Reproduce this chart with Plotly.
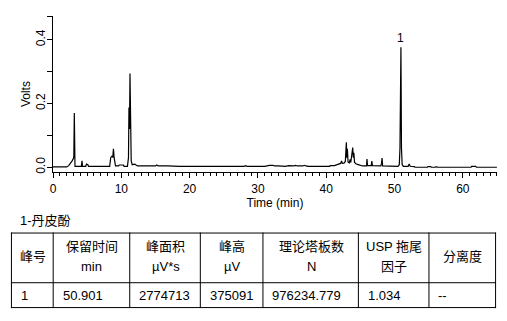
import plotly.graph_objects as go

# Chromatogram (time in min, signal in volts)
time_min = [0, 2.0, 2.3, 2.6, 2.8, 3.0, 3.05, 3.12, 3.18, 3.22, 4.15, 4.25, 4.32, 4.8, 4.9, 5.1, 5.2,
            8.3, 8.45, 8.6, 8.75, 8.85, 8.95, 9.05, 9.15, 9.6, 9.7, 10.3, 10.4, 10.9, 11.05, 11.12, 11.2,
            11.27, 11.35, 11.45, 11.6, 11.9, 12.0, 12.2, 12.4, 15.0, 15.2, 15.4, 16.6, 16.7, 16.8, 18.5,
            19.0, 19.8, 20.9, 21.1, 21.6, 21.7, 24.5, 24.6, 24.8, 26.3, 26.4, 28.0, 28.2, 28.4, 31.0,
            31.2, 31.7, 32.2, 32.4, 33.0, 34.0, 34.5, 35.2, 35.5, 35.8, 36.6, 36.8, 37.0, 37.4, 40.5,
            40.6, 41.2, 41.5, 41.9, 42.1, 42.25, 42.35, 42.6, 42.8, 42.95, 43.02, 43.1, 43.2, 43.4, 43.5,
            43.6, 43.75, 43.88, 43.97, 44.05, 44.15, 44.4, 44.7, 45.0, 45.3, 45.9, 45.97, 46.05, 46.6,
            46.68, 46.76, 48.0, 48.1, 48.18, 48.26, 50.5, 50.7, 50.8, 50.86, 50.94, 51.02, 51.12, 51.3,
            52.0, 52.15, 52.3, 52.9, 53.0, 54.8, 54.9, 55.3, 55.4, 56.0, 56.1, 56.3, 61.2, 61.3, 61.9,
            62.0, 65.0]
volts = [0.001, 0.001, 0.005, 0.012, 0.020, 0.028, 0.035, 0.170, 0.030, 0.003, 0.003, 0.020, 0.003, 0.003, 0.010, 0.008, 0.003,
         0.003, 0.030, 0.034, 0.032, 0.058, 0.030, 0.012, 0.004, 0.004, 0.007, 0.007, 0.003, 0.003, 0.030, 0.187, 0.120,
         0.294, 0.125, 0.020, 0.008, 0.008, 0.010, 0.006, 0.004, 0.004, 0.007, 0.004, 0.004, 0.006, 0.004, 0.003,
         0.003, 0.001, 0.001, 0.003, 0.003, 0.001, 0.001, 0.003, 0.001, 0.001, 0.003, 0.003, 0.005, 0.003, 0.003,
         0.004, 0.006, 0.006, 0.004, 0.004, 0.003, 0.005, 0.004, 0.006, 0.004, 0.004, 0.006, 0.004, 0.003, 0.003,
         0.005, 0.005, 0.008, 0.010, 0.012, 0.020, 0.012, 0.013, 0.018, 0.078, 0.030, 0.058, 0.016, 0.014, 0.025,
         0.015, 0.040, 0.062, 0.030, 0.045, 0.015, 0.010, 0.008, 0.006, 0.004, 0.004, 0.026, 0.005, 0.005,
         0.019, 0.005, 0.004, 0.012, 0.029, 0.004, 0.003, 0.008, 0.060, 0.372, 0.376, 0.060, 0.008, 0.003,
         0.003, 0.010, 0.003, 0.002, 0.000, 0.000, 0.002, 0.002, 0.000, 0.000, 0.002, 0.000, 0.000, 0.003, 0.003,
         0.000, 0.000]

peak_label = "1"
peak_time = 50.9
peak_height = 0.376

y_tickvals = [0.0, 0.1, 0.2, 0.3, 0.4, 0.474]
y_ticktext = ["0.0", "", "0.2", "", "0.4", ""]

table_title = "1-丹皮酚"
header_labels = ["峰号", "保留时间<br>min", "峰面积<br>µV*s", "峰高<br>µV", "理论塔板数<br>N", "USP 拖尾<br>因子", "分离度"]
row_values = ["1", "50.901", "2774713", "375091", "976234.779", "1.034", "--"]

# Table layout (pixels)
col_widths = [42, 77, 71, 63, 96, 71, 67]
table_left = 8
row_edges = [234, 284, 309]
header_line_gap = 20
body_pad = 8

W, H = 507, 321
FONT = "Liberation Sans, Arial, Noto Sans CJK SC, sans-serif"


def px(x):
    return x / W


def py(y):
    return 1 - y / H


fig = go.Figure()
fig.add_trace(go.Scatter(x=time_min, y=volts, mode="lines",
                         line=dict(color="black", width=1.2), showlegend=False))

fig.add_annotation(x=peak_time, y=peak_height, text=peak_label, showarrow=False,
                   yanchor="bottom", xref="x", yref="y",
                   font=dict(family=FONT, size=12, color="black"))
fig.add_annotation(x=px(15), y=py(222), xref="paper", yref="paper", text=table_title,
                   showarrow=False, xanchor="left", yanchor="middle",
                   font=dict(family=FONT, size=13, color="black"))

# table grid
col_edges = [table_left]
for w in col_widths:
    col_edges.append(col_edges[-1] + w)

line_style = dict(color="black", width=1)
for ex in col_edges:
    fig.add_shape(type="line", xref="paper", yref="paper",
                  x0=px(ex + 0.5), x1=px(ex + 0.5), y0=py(row_edges[0]), y1=py(row_edges[-1] + 1),
                  line=line_style)
for ey in row_edges:
    fig.add_shape(type="line", xref="paper", yref="paper",
                  x0=px(col_edges[0]), x1=px(col_edges[-1] + 1), y0=py(ey + 0.5), y1=py(ey + 0.5),
                  line=line_style)

# header text (centered, lines 20 px apart)
header_mid = (row_edges[0] + row_edges[1]) / 2 + 0.5
for i, label in enumerate(header_labels):
    lines = label.split("<br>")
    cx = (col_edges[i] + col_edges[i + 1]) / 2 + 1
    n = len(lines)
    for k, t in enumerate(lines):
        yc = header_mid + (k - (n - 1) / 2) * header_line_gap - 1
        fig.add_annotation(x=px(cx), y=py(yc), xref="paper", yref="paper", text=t,
                           showarrow=False, xanchor="center", yanchor="middle",
                           font=dict(family=FONT, size=13, color="black"))

# body row (left aligned)
body_mid = (row_edges[1] + row_edges[2]) / 2 + 0.5
for i, v in enumerate(row_values):
    fig.add_annotation(x=px(col_edges[i] + body_pad), y=py(body_mid), xref="paper", yref="paper",
                       text=v, showarrow=False, xanchor="left", yanchor="middle",
                       font=dict(family=FONT, size=13, color="black"))

fig.update_layout(
    width=W, height=H, margin=dict(l=0, r=0, t=0, b=0),
    paper_bgcolor="white", plot_bgcolor="white",
    font=dict(family=FONT, size=12, color="black"),
    xaxis=dict(domain=[px(50.3), px(496.9)], range=[0, 65], tick0=0, dtick=10,
               showline=True, linecolor="black", linewidth=1, mirror=False,
               ticks="outside", ticklen=5, tickcolor="black", tickwidth=1,
               minor=dict(dtick=1, ticks="outside", ticklen=3, tickcolor="black", tickwidth=1),
               showgrid=False, zeroline=False,
               title=dict(text="Time (min)", font=dict(size=12), standoff=0),
               tickfont=dict(size=12)),
    yaxis=dict(domain=[py(173.3), py(16)], range=[-0.0156, 0.4745],
               tickvals=y_tickvals, ticktext=y_ticktext, tickangle=-90,
               showline=True, linecolor="black", linewidth=1,
               ticks="outside", ticklen=5, tickcolor="black", tickwidth=1,
               ticklabelstandoff=-3,
               showgrid=False, zeroline=False,
               title=dict(text="Volts", font=dict(size=12), standoff=0),
               tickfont=dict(size=12)),
)

fig.write_html("out.html")
